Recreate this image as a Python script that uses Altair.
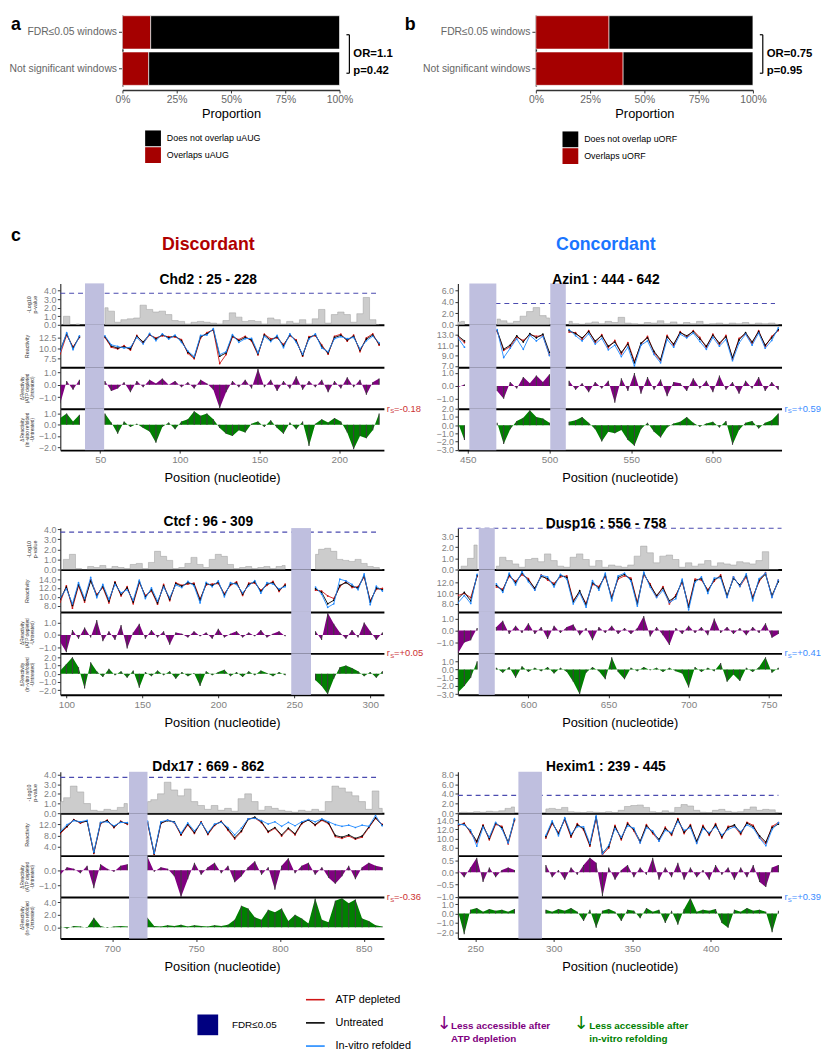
import altair as alt
import pandas as pd

FONT = "Liberation Sans"
STEP = 4

# ---------------- panels a / b ----------------
WINDOW_GROUPS = ["FDR≤0.05 windows", "Not significant windows"]
A_OVERLAP_SHARE = [0.130, 0.121]
B_OVERLAP_SHARE = [0.337, 0.402]
A_CATEGORIES = ["Does not overlap uAUG", "Overlaps uAUG"]
B_CATEGORIES = ["Does not overlap uORF", "Overlaps uORF"]
A_STATS = ["OR=1.1", "p=0.42"]
B_STATS = ["OR=0.75", "p=0.95"]

# ---------------- panel c: labels ----------------
LINE_SERIES = ["ATP depleted", "Untreated", "In-vitro refolded"]
FDR_LABEL = ["FDR≤0.05"]
NOTE_ATP = ["Less accessible after", "ATP depletion"]
NOTE_VITRO = ["Less accessible after", "in-vitro refolding"]
COLUMN_HEADERS = ["Discordant", "Concordant"]
THRESHOLD = 3.7

# ---------------- Chd2 ----------------
CHD2_STARTS = [25, 53]
CHD2_FDR = [[40.5, 52.5]]
CHD2_THR = [25, 225]
CHD2_PVAL = [[0.0, 1.0, 0.0, 0.1],
             [2.0, 1.6, 0.3, 0.6, 0.7, 0.8, 2.3, 1.8, 1.5, 1.6, 1.2, 0.5, 0.4, 0.1, 0.3, 0.4, 0.3, 0.2, 0.1, 0.5,
              1.4, 0.9, 0.4, 0.5, 0.4, 0.1, 0.8, 0.6, 0.1, 0.4, 0.2, 0.6, 0.1, 0.7, 1.8, 0.2, 1.2, 1.5, 1.2, 0.3,
              1.3, 3.2, 0.6, 0.0]]
CHD2_UNT = [[9.5, 13.5, 10.0, 12.8],
            [12.8, 10.5, 10.0, 10.3, 9.8, 12.9, 11.5, 13.4, 12.2, 13.3, 12.5, 13.0, 11.8, 9.0, 7.7, 12.8, 13.5, 14.6, 8.0, 8.8,
             13.0, 11.8, 12.6, 12.0, 8.6, 13.2, 11.9, 12.8, 10.5, 13.3, 11.7, 8.2, 12.5, 13.3, 10.4, 8.8, 12.6, 13.1, 12.0, 12.9,
             9.5, 12.2, 13.2, 11.0]]
CHD2_ATP = [[8.6, 13.2, 10.3, 12.6],
            [12.6, 10.2, 9.8, 10.6, 9.5, 13.1, 11.2, 13.2, 12.5, 13.0, 12.8, 12.7, 12.1, 8.7, 7.4, 12.5, 13.8, 14.4, 6.2, 8.4,
             12.7, 12.1, 12.9, 11.7, 8.3, 13.4, 12.3, 12.5, 10.9, 13.0, 12.0, 8.0, 12.8, 13.0, 10.8, 8.5, 12.9, 13.4, 11.7, 13.2,
             9.1, 12.5, 13.5, 10.7]]
CHD2_VIT = [[9.2, 13.8, 9.6, 13.0],
            [13.0, 10.8, 10.4, 10.0, 10.2, 12.6, 11.0, 13.6, 11.8, 13.5, 12.2, 13.2, 11.4, 9.3, 7.9, 13.1, 13.2, 14.8, 8.4, 9.1,
             13.3, 11.4, 12.3, 12.4, 8.8, 12.9, 11.6, 13.1, 10.1, 13.5, 11.4, 8.5, 12.2, 13.5, 10.0, 9.1, 12.3, 12.8, 12.3, 12.6,
             9.8, 11.8, 12.9, 11.3]]
CHD2_DATP = [[-1.5, 0.3, -0.4, 0.4],
             [0.3, -0.5, -0.3, 0.2, -0.6, 0.3, -0.2, 0.4, 0.1, 0.5, 0.0, 0.3, -0.2, 0.2, -0.3, 0.4, 0.1, -0.4, -1.9, -0.6,
              0.3, -0.2, 0.4, -0.3, 1.3, -0.2, 0.4, -0.5, 0.3, -0.3, 0.7, -0.4, 0.3, -0.2, 0.4, -0.6, 0.3, -0.3, 0.6, -0.2,
              0.4, -0.8, 0.2, 0.5]]
CHD2_DVIT = [[0.6, 1.0, 0.3, 0.9],
             [1.0, 0.2, -0.8, 0.3, -0.2, 0.1, -0.3, -0.6, -1.6, -0.2, 0.2, -0.4, 0.3, 0.5, 1.2, 0.8, 1.0, 0.5, -0.3, -0.8,
              -1.0, -0.5, -0.7, 0.1, 0.3, -0.2, 0.4, -0.3, -0.8, 0.2, -0.4, 0.3, -1.9, 0.1, 0.5, 0.2, 0.6, 0.3, -0.7, -2.2,
              -1.0, -1.2, -0.5, 1.0]]

# ---------------- Azin1 ----------------
AZIN1_STARTS = [444, 468, 512]
AZIN1_FDR = [[451, 467.5], [500.5, 510]]
AZIN1_THR = [467, 638]
AZIN1_PVAL = [[0.5, 0.6],
              [1.0, 0.7, 0.3, 0.6, 1.5, 2.3, 3.0, 1.6, 1.2],
              [0.6, 0.2, 0.1, 0.3, 0.5, 0.2, 0.6, 0.4, 1.3, 0.3, 0.2, 0.1, 0.4, 0.3, 0.7, 0.2, 0.5, 0.1, 0.4, 0.2,
               0.6, 0.1, 0.2, 0.3, 0.1, 0.3, 0.2, 0.4, 0.1, 0.3, 0.2, 0.3, 0.1]]
AZIN1_UNT = [[12.8, 11.8],
             [13.8, 10.2, 11.0, 12.8, 11.6, 13.2, 12.4, 13.1, 9.6],
             [13.8, 13.2, 12.4, 13.6, 11.8, 12.8, 10.8, 11.6, 9.6, 11.2, 7.6, 11.4, 12.4, 9.8, 8.2, 12.6, 11.2, 13.4, 12.8, 13.6,
              12.2, 10.8, 12.9, 11.4, 12.6, 8.6, 12.0, 13.4, 11.6, 13.6, 11.0, 12.4, 14.0]]
AZIN1_ATP = [[12.6, 11.5],
             [13.6, 10.0, 10.7, 12.5, 11.9, 13.0, 12.7, 12.8, 9.1],
             [13.5, 13.4, 12.1, 13.8, 11.5, 13.0, 10.5, 11.9, 9.3, 11.5, 7.9, 11.1, 12.7, 9.5, 8.0, 12.9, 10.9, 13.6, 12.5, 13.8,
              12.5, 10.5, 13.1, 11.1, 12.9, 8.3, 12.3, 13.2, 11.3, 13.8, 10.7, 12.7, 13.8]]
AZIN1_VIT = [[12.4, 10.6],
             [14.0, 8.6, 10.4, 12.2, 10.2, 12.9, 11.8, 12.7, 9.0],
             [14.0, 12.8, 11.8, 13.2, 11.2, 12.3, 10.1, 11.0, 8.8, 10.6, 7.0, 11.0, 11.8, 9.2, 7.6, 12.1, 10.6, 13.1, 12.4, 13.3,
              11.7, 10.2, 12.5, 10.8, 12.1, 8.0, 11.4, 13.1, 11.0, 13.3, 10.4, 11.9, 14.3]]
AZIN1_DATP = [[-0.1, 0.1],
              [-0.4, -1.0, 0.3, -0.2, 0.7, 0.2, 0.8, 0.3, 0.9],
              [0.4, -0.3, 0.2, -0.5, 0.3, -0.2, 0.4, -1.3, 0.6, -0.4, 1.0, -0.6, 0.7, -0.3, 0.5, -0.8, 0.3, 0.2, -0.4, 0.6,
               -0.2, 0.4, -0.5, 0.8, -0.3, 0.3, -0.6, 0.4, -0.2, 0.7, -0.4, 0.3, -0.3]]
AZIN1_DVIT = [[0.3, -1.8],
              [0.3, -2.3, -0.5, 0.5, 0.9, 1.8, 1.0, 0.8, 0.3],
              [0.4, 0.6, 1.0, 0.3, -0.5, -2.0, -0.8, -1.0, -0.6, -1.8, -2.5, -0.5, 0.3, -0.8, -1.5, -0.3, 0.2, 0.4, 1.0, 0.3,
               -0.2, 0.2, 0.4, -0.3, 0.5, -2.4, -0.6, 0.3, 0.5, -0.4, 0.3, 0.6, 1.4]]

# ---------------- Ctcf ----------------
CTCF_STARTS = [96, 264]
CTCF_FDR = [[248, 261]]
CTCF_THR = [96, 306]
CTCF_PVAL = [[0.0, 1.0, 1.5, 0.1, 0.0, 0.3, 0.2, 0.4, 0.1, 0.3, 0.2, 0.1, 0.5, 0.6, 0.1, 0.7, 1.8, 1.3, 0.9, 0.1,
              0.2, 0.6, 1.2, 0.5, 0.2, 1.0, 1.5, 1.3, 0.5, 0.1, 0.2, 0.3, 0.1, 0.2, 0.3, 0.1, 0.3, 0.4],
             [1.5, 2.0, 2.1, 1.8, 1.0, 0.9, 0.8, 1.0, 0.6, 0.3, 0.2, 0.0]]
CTCF_UNT = [[9.5, 12.2, 8.0, 12.8, 9.2, 13.6, 10.2, 12.4, 9.0, 13.2, 10.5, 12.0, 8.8, 13.5, 10.0, 11.6, 8.6, 12.5, 9.4, 13.0,
             12.4, 13.2, 12.8, 9.2, 13.0, 12.6, 13.3, 10.4, 12.9, 13.1, 10.6, 12.8, 13.4, 11.2, 12.9, 13.2, 11.5, 12.6],
            [11.8, 11.0, 8.4, 9.2, 12.6, 13.2, 12.4, 12.0, 14.8, 8.8, 12.0, 11.6]]
CTCF_ATP = [[8.8, 12.5, 7.4, 12.5, 8.8, 13.9, 10.5, 12.1, 8.6, 13.4, 10.2, 12.3, 8.4, 13.2, 10.3, 11.3, 8.3, 12.8, 9.1, 13.2,
             12.6, 12.9, 13.1, 9.5, 12.7, 12.9, 13.0, 10.7, 12.6, 13.4, 10.3, 13.1, 13.1, 11.5, 12.6, 13.5, 11.2, 12.9],
            [11.5, 11.3, 10.2, 9.6, 12.3, 13.5, 12.1, 12.3, 14.5, 9.1, 11.7, 11.9]]
CTCF_VIT = [[9.8, 11.8, 8.4, 13.2, 9.6, 14.4, 9.8, 12.8, 9.4, 12.8, 10.9, 11.6, 9.2, 13.8, 9.6, 12.0, 9.0, 12.2, 9.8, 12.7,
             12.1, 13.5, 12.5, 8.6, 13.3, 12.3, 13.6, 10.0, 13.2, 12.8, 10.9, 12.5, 13.7, 10.8, 13.2, 12.9, 11.8, 12.3],
            [12.2, 10.6, 7.6, 8.4, 14.0, 13.6, 12.8, 11.6, 15.2, 8.2, 12.4, 11.3]]
CTCF_DATP = [[-0.6, -1.4, 0.4, -0.3, 0.6, -0.2, 1.2, -0.5, 0.3, -0.4, 0.8, -1.1, 0.2, 0.9, -0.3, 0.4, -0.2, 0.3, -0.8, 0.2,
              0.1, -0.2, 0.3, -0.1, 0.2, -0.3, 0.5, -0.2, 0.1, 0.3, -0.2, 0.2, -0.1, 0.4, -0.2, 0.1, 0.3, -0.1],
             [0.3, -0.4, 1.8, 0.9, 0.2, -0.3, 0.4, -0.2, 1.0, 0.3, -0.4, 0.2]]
CTCF_DVIT = [[0.4, 1.2, 2.0, 0.8, -1.8, 1.4, 0.3, -0.4, 0.6, -0.2, 0.3, -0.5, 0.4, -1.7, 0.2, -0.3, 0.4, -0.2, 0.3, -0.6,
              0.2, -0.3, 0.1, -1.5, 0.3, -0.2, 0.2, 0.5, -0.3, 0.2, -0.4, 0.3, -0.2, 0.4, 0.1, -0.3, 0.2, -0.2],
             [-0.8, -1.5, -2.5, -0.6, 0.8, 1.0, 0.7, 0.3, -0.3, 0.2, -0.5, 0.3]]

# ---------------- Dusp16 ----------------
DUSP16_STARTS = [556, 580]
DUSP16_FDR = [[569, 579]]
DUSP16_THR = [556, 758]
DUSP16_PVAL = [[0.0, 0.3, 1.0, 2.2],
               [0.3, 1.1, 0.8, 0.5, 0.2, 0.9, 1.0, 0.7, 1.4, 0.8, 0.3, 0.2, 1.1, 1.4, 0.9, 0.3, 0.8, 0.2, 0.4, 0.3,
                0.2, 0.4, 1.2, 2.1, 1.5, 0.6, 1.2, 1.3, 0.9, 0.2, 0.6, 0.3, 0.5, 0.8, 0.3, 0.6, 0.5, 0.4, 0.7, 0.6,
                0.5, 0.8, 1.6, 0.0, 0.0]]
DUSP16_UNT = [[9.0, 10.2, 8.6, 13.4],
              [11.5, 10.5, 13.5, 12.0, 13.8, 12.5, 11.0, 13.2, 12.8, 11.6, 13.4, 13.0, 8.4, 10.5, 7.8, 12.0, 11.0, 13.5, 9.0, 13.0,
               13.6, 12.6, 8.0, 13.8, 11.5, 9.6, 11.0, 8.6, 9.4, 12.4, 7.4, 12.4, 12.8, 10.4, 12.6, 13.2, 9.6, 12.8, 11.6, 13.4,
               9.0, 12.5, 13.6, 9.6, 12.2]]
DUSP16_ATP = [[9.6, 10.0, 9.2, 13.2],
              [11.2, 10.8, 13.2, 12.3, 13.5, 12.8, 10.7, 13.5, 12.5, 11.9, 13.1, 13.3, 8.7, 10.2, 8.1, 11.7, 11.3, 13.2, 9.3, 12.7,
               13.3, 12.9, 8.3, 13.5, 11.8, 9.3, 11.3, 8.0, 9.7, 12.1, 7.7, 12.7, 12.5, 10.7, 12.3, 13.5, 9.3, 13.1, 11.3, 13.1,
               9.3, 12.2, 13.9, 9.3, 12.5]]
DUSP16_VIT = [[8.2, 9.6, 8.1, 13.6],
              [11.8, 10.2, 13.8, 11.6, 14.1, 12.2, 10.6, 13.4, 13.1, 11.2, 13.6, 12.7, 8.0, 10.1, 7.4, 12.4, 10.6, 13.8, 8.6, 13.3,
               13.8, 12.3, 7.6, 14.0, 11.2, 9.2, 10.6, 8.3, 9.0, 12.7, 6.9, 12.1, 13.1, 10.0, 12.9, 12.9, 9.2, 13.1, 11.3, 13.7,
               8.6, 12.8, 13.8, 9.2, 12.5]]
DUSP16_DATP = [[-1.9, -1.0, -0.8, 0.2],
               [0.3, 0.8, -0.3, 0.4, -0.2, 0.6, -0.3, 0.3, -0.7, 0.4, -0.2, 0.3, 0.5, -0.4, 0.2, -0.8, 0.3, -0.2, 0.4, -0.3,
                0.2, -0.3, 0.2, 1.2, -0.5, 0.3, -0.4, -1.2, 0.2, -0.3, 0.4, -0.2, 0.3, -0.4, 1.0, -0.2, 0.3, -0.3, 0.2, -0.4,
                0.3, -0.2, 0.6, -0.6, -0.3]]
DUSP16_DVIT = [[-2.8, -2.0, -1.0, 1.0],
               [0.2, -0.4, 0.3, -1.0, 0.4, -0.3, 0.2, -0.2, 0.3, -0.5, 0.2, -0.3, -1.5, -3.0, -0.4, 0.3, -0.2, -1.2, 1.5, -0.3,
                -1.2, 0.2, -0.2, 0.3, -0.1, 0.2, -0.3, 0.2, -0.2, -0.5, -2.2, 0.3, -0.3, 0.2, -0.2, 0.8, -1.5, -0.6, -1.4, 0.2,
                -0.3, 0.3, 1.5, -0.4, 0.2]]

# ---------------- Ddx17 ----------------
DDX17_STARTS = [669, 721]
DDX17_FDR = [[710, 721]]
DDX17_THR = [669, 859]
DDX17_PVAL = [[1.2, 1.6, 2.8, 2.2, 1.0, 0.3, 0.2, 0.4, 0.3, 0.6, 1.0],
              [1.2, 1.4, 2.0, 3.2, 2.4, 1.8, 2.5, 1.2, 0.8, 0.4, 0.8, 0.3, 0.5, 0.2, 1.5, 2.0, 1.2, 0.3, 0.7, 0.5,
               0.3, 0.2, 0.1, 0.3, 0.2, 0.4, 0.2, 1.2, 2.8, 2.6, 2.2, 1.8, 1.2, 0.4, 2.3, 0.5]]
DDX17_UNT = [[9.0, 11.2, 13.4, 12.6, 13.0, 2.0, 12.4, 13.2, 11.0, 12.8, 12.2],
             [12.8, 1.6, 12.4, 13.2, 12.8, 8.4, 12.0, 9.0, 12.6, 8.6, 11.8, 12.8, 10.2, 7.2, 9.6, 13.6, 14.4, 12.8, 9.4, 10.8,
              8.2, 10.6, 8.6, 12.4, 13.4, 11.8, 13.6, 12.4, 8.0, 7.4, 8.2, 7.0, 7.8, 11.0, 14.2, 11.6]]
DDX17_ATP = [[8.6, 11.0, 13.6, 12.3, 13.2, 1.7, 12.1, 13.4, 10.7, 13.0, 11.9],
             [12.5, 1.4, 12.2, 13.4, 12.5, 8.1, 11.7, 8.7, 12.8, 8.3, 11.5, 13.0, 9.8, 6.8, 9.3, 13.8, 14.1, 12.5, 9.1, 10.5,
              7.8, 10.3, 8.2, 12.1, 13.6, 11.5, 13.3, 12.1, 7.6, 7.0, 7.8, 6.7, 7.4, 10.7, 14.0, 11.9]]
DDX17_VIT = [[9.4, 11.8, 13.2, 12.8, 13.3, 2.2, 12.6, 12.8, 11.4, 12.6, 12.5],
             [13.0, 1.8, 12.8, 13.4, 12.6, 8.8, 12.4, 9.6, 12.4, 9.0, 12.0, 12.6, 10.8, 8.2, 10.6, 13.8, 14.0, 13.2, 12.0, 12.8,
              11.2, 12.6, 11.4, 12.8, 13.6, 12.8, 13.8, 12.8, 11.8, 11.2, 11.6, 10.8, 11.6, 11.2, 15.0, 11.4]]
DDX17_DATP = [[-0.3, 0.2, 0.1, -0.2, 0.3, -1.2, 0.4, 0.1, -0.1, 0.3, 0.4],
              [0.9, -0.1, 0.2, 0.1, -0.4, -1.8, -0.6, 0.5, -0.3, 0.2, 0.5, -0.2, 0.3, -0.8, -0.4, 0.2, 0.6, -0.3, 0.2, -1.3,
               0.3, 0.8, -0.2, 0.3, 0.5, -0.3, 0.2, -0.5, -0.9, -0.4, 0.3, -0.6, 0.2, 0.5, 0.3, 0.2]]
DDX17_DVIT = [[0.1, -0.2, 0.2, 0.1, -0.1, 1.5, 0.2, -0.1, 0.1, 0.2, 0.1],
              [1.5, 0.2, 0.1, 0.3, 0.2, 0.4, 0.1, 0.3, 0.2, 0.1, 0.3, 0.2, 0.4, 1.2, 3.4, 3.0, 1.6, 1.2, 2.8, 2.4,
               3.0, 1.0, 2.0, 1.4, 0.6, 4.6, 1.2, 0.8, 4.2, 4.6, 3.8, 4.4, 1.4, 1.0, 0.3, 0.1]]

# ---------------- Hexim1 ----------------
HEXIM1_STARTS = [239, 295]
HEXIM1_FDR = [[277.5, 292.5]]
HEXIM1_THR = [239, 443]
HEXIM1_PVAL = [[0.1, 0.2, 0.1, 0.3, 0.2, 0.4, 0.3, 0.5, 1.0, 1.3],
               [0.9, 1.0, 0.8, 1.2, 0.3, 0.2, 0.1, 0.3, 0.2, 0.1, 0.3, 0.1, 0.6, 1.4, 1.6, 1.7, 1.2, 0.3, 0.1, 0.5,
                0.2, 1.2, 1.8, 1.5, 0.6, 0.2, 0.1, 0.6, 0.8, 0.4, 0.2, 0.3, 0.8, 1.3, 0.6, 0.8, 0.7, 0.1]]
HEXIM1_UNT = [[13.0, 13.2, 11.6, 9.4, 12.8, 10.0, 13.4, 12.4, 9.2, 14.2],
              [10.4, 13.6, 11.0, 14.4, 10.6, 13.0, 12.2, 8.6, 14.8, 6.8, 8.2, 12.6, 10.0, 13.2, 12.0, 9.4, 12.8, 11.4, 9.8, 12.2,
               11.0, 14.2, 11.4, 12.8, 9.4, 12.6, 11.0, 13.0, 10.4, 12.4, 13.0, 11.2, 13.4, 12.6, 10.6, 9.2, 12.4, 13.2]]
HEXIM1_ATP = [[12.8, 13.4, 11.3, 9.1, 13.0, 9.7, 13.1, 12.7, 8.8, 14.0],
              [10.1, 13.3, 11.3, 14.1, 10.3, 13.3, 11.9, 8.3, 14.5, 6.4, 7.9, 12.9, 9.7, 13.5, 11.7, 9.1, 13.1, 11.1, 9.5, 12.5,
               10.7, 14.4, 11.1, 13.1, 9.1, 12.9, 10.7, 13.3, 10.1, 12.7, 12.7, 10.9, 13.6, 12.9, 10.3, 8.9, 12.7, 13.5]]
HEXIM1_VIT = [[13.2, 13.0, 11.9, 8.3, 12.5, 10.3, 13.6, 12.1, 9.0, 14.4],
              [10.7, 13.9, 10.6, 14.6, 11.0, 12.6, 12.6, 8.9, 15.0, 6.6, 8.5, 12.2, 10.3, 12.8, 12.3, 9.0, 12.4, 11.7, 9.4, 11.8,
               11.3, 13.8, 11.8, 12.4, 8.9, 12.2, 11.3, 12.6, 10.8, 12.0, 12.6, 11.5, 13.0, 12.3, 10.1, 8.4, 12.0, 13.5]]
HEXIM1_DATP = [[0.1, -0.2, 0.2, 0.6, -0.4, 0.2, -0.2, 0.1, 0.2, 0.1],
               [0.3, -0.2, 0.1, -0.3, 0.2, -0.1, 0.3, 0.6, 0.4, -1.0, 0.2, -0.3, 0.1, 0.3, -0.2, 0.2, -0.1, 0.6, -0.3, 0.2,
                -0.2, 0.4, -0.3, 0.2, -0.2, 0.1, -0.3, 0.3, -0.1, 0.2, -0.3, 0.2, -0.2, 0.3, -0.4, -0.6, 0.2, 0.3]]
HEXIM1_DVIT = [[0.3, -2.2, 0.4, 0.6, 0.2, 0.5, 0.3, 0.4, 0.2, 0.5],
               [0.4, 0.2, 0.5, 0.3, 0.6, 0.2, -0.8, 0.4, -1.5, 0.3, 0.5, 0.2, -0.8, 0.4, 0.3, -0.5, 0.6, 0.2, 0.4, -1.0,
                0.3, -1.2, 0.5, 1.7, 0.2, 0.4, 0.3, 0.5, -1.0, -1.5, 0.4, 0.2, 0.6, 0.3, 0.4, 0.2, -2.0, 0.3]]

GENE_INFO = {
    "Chd2": ("Chd2 : 25 - 228", 25, 228, "=-0.18"),
    "Azin1": ("Azin1 : 444 - 642", 444, 642, "=+0.59"),
    "Ctcf": ("Ctcf : 96 - 309", 96, 309, "=+0.05"),
    "Dusp16": ("Dusp16 : 556 - 758", 556, 758, "=+0.41"),
    "Ddx17": ("Ddx17 : 669 - 862", 669, 862, "=-0.36"),
    "Hexim1": ("Hexim1 : 239 - 445", 239, 445, "=+0.39"),
}
DATA = {
    "Chd2": dict(starts=CHD2_STARTS, fdr=CHD2_FDR, thr=CHD2_THR, pval=CHD2_PVAL, atp=CHD2_ATP, unt=CHD2_UNT,
                 vit=CHD2_VIT, datp=CHD2_DATP, dvit=CHD2_DVIT),
    "Azin1": dict(starts=AZIN1_STARTS, fdr=AZIN1_FDR, thr=AZIN1_THR, pval=AZIN1_PVAL, atp=AZIN1_ATP, unt=AZIN1_UNT,
                  vit=AZIN1_VIT, datp=AZIN1_DATP, dvit=AZIN1_DVIT),
    "Ctcf": dict(starts=CTCF_STARTS, fdr=CTCF_FDR, thr=CTCF_THR, pval=CTCF_PVAL, atp=CTCF_ATP, unt=CTCF_UNT,
                 vit=CTCF_VIT, datp=CTCF_DATP, dvit=CTCF_DVIT),
    "Dusp16": dict(starts=DUSP16_STARTS, fdr=DUSP16_FDR, thr=DUSP16_THR, pval=DUSP16_PVAL, atp=DUSP16_ATP,
                   unt=DUSP16_UNT, vit=DUSP16_VIT, datp=DUSP16_DATP, dvit=DUSP16_DVIT),
    "Ddx17": dict(starts=DDX17_STARTS, fdr=DDX17_FDR, thr=DDX17_THR, pval=DDX17_PVAL, atp=DDX17_ATP, unt=DDX17_UNT,
                  vit=DDX17_VIT, datp=DDX17_DATP, dvit=DDX17_DVIT),
    "Hexim1": dict(starts=HEXIM1_STARTS, fdr=HEXIM1_FDR, thr=HEXIM1_THR, pval=HEXIM1_PVAL, atp=HEXIM1_ATP,
                   unt=HEXIM1_UNT, vit=HEXIM1_VIT, datp=HEXIM1_DATP, dvit=HEXIM1_DVIT),
}

# ---------------- axis layout (domains / ticks) ----------------
AXES = {
    "Chd2": dict(p=([0, 4.85], [0, 1, 2, 3, 4]), r=([5.3, 15.7], [7.5, 10, 12.5]), a=([-1.94, 1.42], [-1, 0, 1]),
                 v=([-2.27, 1.44], [-2, -1, 0, 1]), x=[50, 100, 150, 200]),
    "Azin1": dict(p=([0, 7.2], [0, 2, 4, 6]), r=([6.75, 14.9], [7, 9, 11, 13]), a=([-1.77, 1.45], [-1, 0, 1]),
                  v=([-3.04, 2.0], [-3, -2, -1, 0, 1, 2]), x=[450, 500, 550, 600]),
    "Ctcf": dict(p=([0, 4.1], [0, 1, 2, 3, 4]), r=([6.55, 16.2], [8, 10, 12, 14]), a=([-1.49, 1.86], [-1, 0, 1]),
                 v=([-2.57, 2.48], [-2, -1, 0, 1, 2]), x=[100, 150, 200, 250, 300]),
    "Dusp16": dict(p=([0, 3.72], [0, 1, 2, 3]), r=([6.5, 14.5], [8, 10, 12]), a=([-1.9, 1.54], [-1, 0, 1]),
                   v=([-3.08, 1.96], [-3, -2, -1, 0, 1]), x=[600, 650, 700, 750]),
    "Ddx17": dict(p=([0, 4.28], [0, 1, 2, 3, 4]), r=([0.93, 15.8], [4, 8, 12]), a=([-1.8, 0.98], [-1, 0]),
                  v=([-1.8, 4.8], [0, 2, 4]), x=[700, 750, 800, 850]),
    "Hexim1": dict(p=([0, 8.6], [0, 2, 4, 6, 8]), r=([6.2, 15.6], [8, 10, 12, 14]), a=([-1.02, 0.69], [-1, -0.5, 0, 0.5]),
                   v=([-2.66, 1.76], [-2, -1, 0, 1]), x=[250, 300, 350, 400]),
}

RED_LINE = "#d01515"
BLUE_LINE = "#1e88ff"
PURPLE = "#800080"
GREEN = "#008000"
FDR_SHADE = "#bfbfdf"
NAVY = "#000080"
DISC_RED = "#b00000"
CONC_BLUE = "#1a75ff"
RS_COLORS = ["#cc3333", "#3b8cff"]
LABEL_GRAY = "#7f7f7f"
AX_DARK = "#333333"

W = 328
HEIGHTS = [42, 43, 42, 42]
GAPS = [79, 78]
TRACK_TITLES = [["-Log10", "p-value"], "Reactivity", ["ΔReactivity", "(ATP depleted", "-Untreated)"],
                ["ΔReactivity", "(In-vitro refolded", "-Untreated)"]]
TITLE_SIZE = [5.5, 5.5, 4.8, 4.8]
TITLE_LH = [6.3, 6.0, 5.3, 5.3]
TITLE_X = [-32.5, -34, -38.5, -38.5]

ONE = pd.DataFrame({"k": [0]})


def frame(starts, segs):
    rows = []
    for k, (s, vals) in enumerate(zip(starts, segs)):
        for i, v in enumerate(vals):
            rows.append({"pos": s + STEP * i, "val": v, "seg": k})
    return pd.DataFrame(rows)


def x_enc(lo, hi, field="pos", bottom=False, ticks=None):
    sc = alt.Scale(domain=[lo, hi], nice=False, zero=False)
    if bottom:
        ax = alt.Axis(values=ticks, title="Position (nucleotide)", labelFontSize=10, labelColor=LABEL_GRAY,
                      labelFont=FONT, labelFlush=False, labelPadding=2, tickSize=3, tickColor=AX_DARK,
                      domainColor="black", domainWidth=2, titleFontSize=13, titleFontWeight="normal",
                      titleFont=FONT, titleColor="black", titlePadding=7, grid=False)
    else:
        ax = alt.Axis(labels=False, ticks=False, title=None, domainColor="black", domainWidth=2, grid=False)
    return alt.X(f"{field}:Q", scale=sc, axis=ax)


def y_enc(spec, track, h, show_title, field="val"):
    dom, ticks = spec
    sc = alt.Scale(domain=dom, nice=False, zero=False)
    kw = dict(values=ticks, format=".1f", labelFontSize=9, labelColor=LABEL_GRAY, labelFont=FONT,
              labelOverlap=False, labelPadding=1.5, tickSize=3, tickColor=AX_DARK, domainColor=AX_DARK,
              domainWidth=1.2, grid=False)
    if show_title:
        kw.update(title=TRACK_TITLES[track], titleFontSize=TITLE_SIZE[track], titleFont=FONT,
                  titleFontWeight="normal", titleColor=AX_DARK, titleX=TITLE_X[track], titleY=h / 2,
                  titleAngle=270, titleAlign="center", titleBaseline="middle", titleLineHeight=TITLE_LH[track])
    else:
        kw.update(title=None)
    return alt.Y(f"{field}:Q", scale=sc, axis=alt.Axis(**kw))


def gene_tracks(name, col):
    title, lo, hi, rs = GENE_INFO[name]
    d = DATA[name]
    ax = AXES[name]
    left = col == 0
    fdr_df = pd.DataFrame(d["fdr"], columns=["x0", "x1"])

    def shade(h, bottom=False):
        return alt.Chart(fdr_df).mark_rect(color=FDR_SHADE).encode(
            x=x_enc(lo, hi, field="x0", bottom=bottom, ticks=ax["x"]), x2="x1:Q", y=alt.value(0), y2=alt.value(h))

    # ---- track 1: p-values
    h = HEIGHTS[0]
    pdf = frame(d["starts"], d["pval"])
    area = alt.Chart(pdf).mark_area(interpolate="step", fill="#cccccc", stroke="#9e9e9e", strokeWidth=0.5,
                                    clip=True).encode(
        x=x_enc(lo, hi), y=y_enc(ax["p"], 0, h, left), y2=alt.datum(0), detail="seg:N")
    thr_df = pd.DataFrame({"x0": [d["thr"][0]], "x1": [d["thr"][1]], "y": [THRESHOLD]})
    rule = alt.Chart(thr_df).mark_rule(color="#4b4bb0", strokeDash=[5, 4], strokeWidth=1.1).encode(
        x=x_enc(lo, hi, field="x0"), x2="x1:Q", y=y_enc(ax["p"], 0, h, left, field="y"))
    t1 = alt.layer(area, rule, shade(h)).properties(
        width=W, height=h,
        title=alt.TitleParams(text=title, fontSize=14, fontWeight="bold", font=FONT, anchor="middle", dx=-14,
                              dy=15.5, offset=1, baseline="alphabetic", frame="group", color="black"))

    # ---- track 2: reactivity
    h = HEIGHTS[1]
    lines = []
    for key, colr in [("atp", RED_LINE), ("unt", "#000000"), ("vit", BLUE_LINE)]:
        df = frame(d["starts"], d[key])
        lines.append(alt.Chart(df).mark_line(color=colr, strokeWidth=0.9, clip=True,
                                             point=alt.OverlayMarkDef(filled=True, size=3, color=colr)).encode(
            x=x_enc(lo, hi), y=y_enc(ax["r"], 1, h, left), detail="seg:N"))
    t2 = alt.layer(*lines, shade(h)).properties(width=W, height=h)

    # ---- track 3/4: differences
    def diff_track(key, track, colr, bottom):
        hh = HEIGHTS[track]
        df = frame(d["starts"], d[key])
        yy = y_enc(ax[key[1]], track, hh, left)
        xx = x_enc(lo, hi, bottom=bottom, ticks=ax["x"])
        ar = alt.Chart(df).mark_area(color=colr, clip=True).encode(x=xx, y=yy, y2=alt.datum(0), detail="seg:N")
        sp = alt.Chart(df).mark_rule(color="#3d3d3d", strokeWidth=1.1, clip=True).encode(x=xx, y=yy, y2=alt.datum(0))
        return [ar, sp, shade(hh, bottom)]

    t3 = alt.layer(*diff_track("datp", 2, PURPLE, False)).properties(width=W, height=HEIGHTS[2])
    l4 = diff_track("dvit", 3, GREEN, True)
    rc = RS_COLORS[col]
    l4.append(alt.Chart(ONE).mark_text(text="r", font=FONT, fontSize=9.5, color=rc, align="left",
                                       baseline="middle").encode(x=alt.value(W + 3), y=alt.value(0)))
    l4.append(alt.Chart(ONE).mark_text(text="S", font=FONT, fontSize=6, color=rc, align="left",
                                       baseline="middle").encode(x=alt.value(W + 6.3), y=alt.value(2.5)))
    l4.append(alt.Chart(ONE).mark_text(text=rs, font=FONT, fontSize=9.5, color=rc, align="left",
                                       baseline="middle").encode(x=alt.value(W + 10.3), y=alt.value(0)))
    t4 = alt.layer(*l4).properties(width=W, height=HEIGHTS[3])
    return [t1, t2, t3, t4]


def prop_panel(share, cats, stats, letter, x0, letter_x, leg_x, leg_y):
    rows = []
    for g, s in zip(WINDOW_GROUPS, share):
        rows.append({"group": g, "category": cats[1], "start": 0.0, "end": s})
        rows.append({"group": g, "category": cats[0], "start": s, "end": 1.0})
    df = pd.DataFrame(rows)
    PW, PH = 220, 72
    bars = alt.Chart(df).mark_bar(stroke="white", strokeWidth=0.6).encode(
        x=alt.X("start:Q", scale=alt.Scale(domain=[0, 1], nice=False, range=[x0, x0 + PW]),
                axis=alt.Axis(values=[0, 0.25, 0.5, 0.75, 1], format=".0%", title="Proportion", offset=4,
                              labelFontSize=10.5, labelColor="#666666", labelFont=FONT, labelFlush=False,
                              labelPadding=2, tickSize=3, tickColor=AX_DARK, domainColor=AX_DARK, domainWidth=1.5,
                              titleFontSize=13, titleFontWeight="normal", titleFont=FONT, titleColor="black",
                              titlePadding=2, grid=False)),
        x2="end:Q",
        y=alt.Y("group:N", sort=WINDOW_GROUPS, title=None,
                scale=alt.Scale(paddingInner=0.08, paddingOuter=0.02),
                axis=alt.Axis(labelFontSize=10.5, labelColor="#666666", labelFont=FONT, tickSize=4, offset=-x0,
                              tickColor=AX_DARK, domainColor=AX_DARK, domainWidth=1.5, labelPadding=2)),
        color=alt.Color("category:N", scale=alt.Scale(domain=cats, range=["#000000", "#a50000"]),
                        legend=alt.Legend(orient="none", legendX=x0 + leg_x, legendY=leg_y, title=None,
                                          direction="vertical", symbolType="square", symbolSize=256,
                                          symbolStrokeWidth=0, symbolOpacity=1, labelFont=FONT, labelFontSize=9,
                                          labelColor="black", labelOffset=6, rowPadding=1, padding=0)))
    bx = x0 + PW
    br = alt.Chart(ONE).mark_rule(color="black", strokeWidth=1.2).encode(
        x=alt.value(bx + 10), y=alt.value(20), y2=alt.value(59))
    arm1 = alt.Chart(ONE).mark_rule(color="black", strokeWidth=1.2).encode(
        x=alt.value(bx + 7), x2=alt.value(bx + 10), y=alt.value(20))
    arm2 = alt.Chart(ONE).mark_rule(color="black", strokeWidth=1.2).encode(
        x=alt.value(bx + 7), x2=alt.value(bx + 10), y=alt.value(59))
    txt = alt.Chart(ONE).mark_text(text=stats, font=FONT, fontSize=11.5, fontWeight="bold", align="left",
                                   baseline="middle", lineHeight=17).encode(
        x=alt.value(bx + 14), y=alt.value(39.5))
    let = alt.Chart(ONE).mark_text(text=letter, font=FONT, fontSize=18, fontWeight="bold", align="left",
                                   baseline="middle").encode(x=alt.value(letter_x), y=alt.value(10.4))
    return alt.layer(bars, br, arm1, arm2, txt, let).properties(width=W, height=PH)


def spacer(h, extra=()):
    base = alt.Chart(ONE).mark_point(opacity=0).encode(x=alt.value(0), y=alt.value(0))
    if extra:
        return alt.layer(base, *extra).properties(width=1, height=h)
    return base.properties(width=1, height=h)


def header_text(text, color):
    return alt.Chart(ONE).mark_text(text=text, font=FONT, fontSize=18, fontWeight="bold", color=color,
                                    align="center", baseline="middle").encode(x=alt.value(W / 2 - 14),
                                                                              y=alt.value(161))


pa = prop_panel(A_OVERLAP_SHARE, A_CATEGORIES, A_STATS, "a", 63, -50, 23, 117)
pb = prop_panel(B_OVERLAP_SHARE, B_CATEGORIES, B_STATS, "b", 79, -54, 27, 118)

c_letter = alt.Chart(ONE).mark_text(text="c", font=FONT, fontSize=18, fontWeight="bold", color="black",
                                    align="left", baseline="middle").encode(x=alt.value(-50), y=alt.value(152))

# ---------------- legend row ----------------
leg_lines = alt.Chart(pd.DataFrame({"series": LINE_SERIES})).mark_rule(opacity=0).encode(
    x=alt.value(0), y=alt.value(0),
    stroke=alt.Stroke("series:N", scale=alt.Scale(domain=LINE_SERIES, range=[RED_LINE, "#000000", BLUE_LINE]),
                      legend=alt.Legend(orient="none", legendX=248, legendY=4.5, title=None, direction="vertical",
                                        symbolType="stroke", symbolSize=361, symbolStrokeWidth=1.6,
                                        symbolOpacity=1, labelFont=FONT, labelFontSize=11, labelColor="black",
                                        labelOffset=10, rowPadding=7.5, padding=0)))
leg_fdr = alt.Chart(pd.DataFrame({"lab": FDR_LABEL})).mark_square(opacity=0).encode(
    x=alt.value(0), y=alt.value(0),
    fill=alt.Fill("lab:N", scale=alt.Scale(domain=FDR_LABEL, range=[NAVY]),
                  legend=alt.Legend(orient="none", legendX=139, legendY=30, title=None, symbolType="square",
                                    symbolSize=441, symbolOpacity=1, symbolStrokeWidth=0, labelFont=FONT,
                                    labelFontSize=10, labelColor="black", labelOffset=14, padding=0)))
arr1 = alt.Chart(ONE).mark_text(text="↓", font="DejaVu Sans", fontSize=18, color=PURPLE, align="center",
                                baseline="middle").encode(x=alt.value(389), y=alt.value(40))
note1 = alt.Chart(ONE).mark_text(text=NOTE_ATP, font=FONT, fontSize=10, fontWeight="bold", color=PURPLE,
                                 align="left", baseline="middle", lineHeight=13).encode(
    x=alt.value(396), y=alt.value(41.5))
arr2 = alt.Chart(ONE).mark_text(text="↓", font="DejaVu Sans", fontSize=18, color=GREEN, align="center",
                                baseline="middle").encode(x=alt.value(528), y=alt.value(40))
note2 = alt.Chart(ONE).mark_text(text=NOTE_VITRO, font=FONT, fontSize=10, fontWeight="bold", color=GREEN,
                                 align="left", baseline="middle", lineHeight=13).encode(
    x=alt.value(536), y=alt.value(41.5))
legend_row = alt.layer(leg_lines, leg_fdr, arr1, note1, arr2, note2).properties(width=W, height=58)

# ---------------- grid assembly ----------------
cells = [pa, pb,
         spacer(200, [header_text(COLUMN_HEADERS[0], DISC_RED), c_letter]),
         spacer(200, [header_text(COLUMN_HEADERS[1], CONC_BLUE)])]
pairs = [("Chd2", "Azin1"), ("Ctcf", "Dusp16"), ("Ddx17", "Hexim1")]
for k, (ln, rn) in enumerate(pairs):
    lt = gene_tracks(ln, 0)
    rt = gene_tracks(rn, 1)
    for a_t, b_t in zip(lt, rt):
        cells += [a_t, b_t]
    if k < 2:
        cells += [spacer(GAPS[k]), spacer(GAPS[k])]
cells += [spacer(47), spacer(47), legend_row, spacer(58)]

chart = alt.concat(*cells, columns=2, spacing={"row": 0, "column": 75}, bounds="flush").resolve_scale(
    color="independent", stroke="independent", fill="independent")
chart = chart.configure_view(stroke=None).configure_axis(grid=False).properties(
    padding={"left": 0, "top": 0, "right": 0, "bottom": 0}, background="white")

chart.save("out.html", embed_options={"renderer": "svg", "actions": False})
